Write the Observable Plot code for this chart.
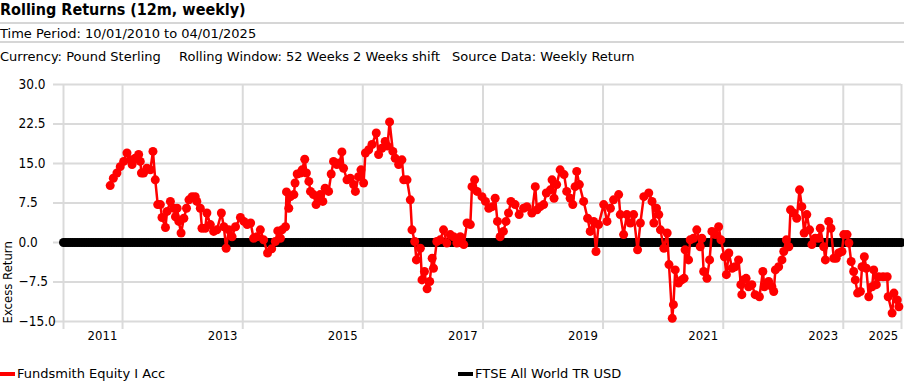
<!DOCTYPE html>
<html>
<head>
<meta charset="utf-8">
<script src="https://cdn.jsdelivr.net/npm/d3@7"></script>
<script src="https://cdn.jsdelivr.net/npm/@observablehq/plot@0.6"></script>
<style>
  body { margin: 0; background: #fff; font-family: "DejaVu Sans", sans-serif; color: #000; }
  #wrap { position: relative; width: 904px; height: 386px; overflow: hidden; }
  .title { position: absolute; left: 0; top: 0; font-family: "DejaVu Sans Condensed", "DejaVu Sans", sans-serif; font-weight: bold; font-size: 16px; line-height: 20px; white-space: nowrap; }
  .sep { position: absolute; left: 0; width: 904px; height: 2px; background: #d6d6d6; }
  .txt { position: absolute; font-size: 13px; line-height: 16px; white-space: nowrap; }
  #chart { position: absolute; left: 0; top: 64px; }
  .leg { position: absolute; top: 366px; font-size: 13px; line-height: 16px; display: flex; align-items: center; white-space: nowrap; }
  .sw { width: 15px; height: 4px; margin-right: 2px; }
</style>
</head>
<body>
<div id="wrap">
  <div class="title">Rolling Returns (12m, weekly)</div>
  <div class="sep" style="top:22px"></div>
  <div class="txt" style="left:0;top:26px">Time Period: 10/01/2010 to 04/01/2025</div>
  <div class="sep" style="top:41px"></div>
  <div class="txt" style="left:0;top:49px">Currency: Pound Sterling</div>
  <div class="txt" style="left:179px;top:49px">Rolling Window: 52 Weeks 2 Weeks shift</div>
  <div class="txt" style="left:452px;top:49px">Source Data: Weekly Return</div>
  <div id="chart"></div>
  <div class="leg" style="left:0"><div class="sw" style="background:#ff0000"></div>Fundsmith Equity I Acc</div>
  <div class="leg" style="left:458px"><div class="sw" style="background:#000"></div>FTSE All World TR USD</div>
</div>
<script>
// ---- data ----
const seriesNames = ["Fundsmith Equity I Acc", "FTSE All World TR USD"];

const fundDates = [
"2011-10-18","2011-11-06","2011-11-28","2011-12-18","2012-01-08","2012-01-28","2012-02-18","2012-02-28","2012-03-18","2012-04-08",
"2012-04-18","2012-04-25","2012-05-08","2012-05-28","2012-06-18","2012-07-04","2012-07-18","2012-08-02","2012-08-18","2012-08-28",
"2012-09-18","2012-09-28","2012-10-18","2012-11-08","2012-11-18","2012-11-28","2012-12-08","2012-12-22","2013-01-08","2013-01-24",
"2013-02-08","2013-02-27","2013-03-18","2013-03-28","2013-04-18","2013-04-28","2013-05-18","2013-05-28","2013-06-18","2013-07-08",
"2013-07-28","2013-08-24","2013-09-08","2013-09-22","2013-10-08","2013-10-28","2013-11-18","2013-12-18","2014-01-08","2014-01-28",
"2014-02-18","2014-03-08","2014-03-28","2014-04-18","2014-05-08","2014-06-01","2014-06-26","2014-07-18","2014-08-02","2014-08-18",
"2014-08-28","2014-09-18","2014-09-24","2014-10-08","2014-10-18","2014-11-08","2014-11-15","2014-11-28","2014-12-18","2014-12-28",
"2015-01-13","2015-01-23","2015-02-07","2015-02-17","2015-03-07","2015-03-23","2015-04-07","2015-04-17","2015-05-03","2015-05-17",
"2015-06-07","2015-06-23","2015-07-07","2015-07-27","2015-08-12","2015-08-27","2015-09-06","2015-09-27","2015-10-17","2015-11-06",
"2015-11-17","2015-12-06","2015-12-21","2016-01-06","2016-01-17","2016-02-06","2016-02-26","2016-03-23","2016-04-06","2016-04-26",
"2016-05-16","2016-05-30","2016-06-12","2016-07-02","2016-07-16","2016-08-06","2016-08-26","2016-09-06","2016-09-26","2016-10-16",
"2016-10-26","2016-11-12","2016-11-22","2016-12-16","2016-12-26","2017-01-10","2017-01-26","2017-02-11","2017-02-26","2017-03-06",
"2017-03-26","2017-04-16","2017-05-06","2017-05-26","2017-06-16","2017-07-06","2017-07-26","2017-08-16","2017-09-06","2017-09-26",
"2017-10-16","2017-10-26","2017-11-11","2017-11-26","2017-12-26","2018-01-16","2018-02-05","2018-02-26","2018-03-16","2018-03-30",
"2018-04-15","2018-05-05","2018-05-21","2018-06-05","2018-06-20","2018-07-15","2018-08-09","2018-09-05","2018-09-25","2018-10-25",
"2018-11-15","2018-11-25","2018-12-15","2019-01-05","2019-01-21","2019-02-15","2019-02-25","2019-03-09","2019-03-25","2019-04-15",
"2019-05-09","2019-05-25","2019-06-15","2019-07-01","2019-07-15","2019-07-25","2019-08-10","2019-09-05","2019-09-29","2019-10-15",
"2019-11-05","2019-11-19","2019-12-05","2020-01-05","2020-01-25","2020-02-15","2020-03-05","2020-04-05","2020-04-15","2020-05-05",
"2020-05-25","2020-06-15","2020-07-05","2020-07-29","2020-08-15","2020-09-05","2020-10-05","2020-10-25","2020-11-05","2020-11-21",
"2020-12-05","2020-12-15","2021-01-05","2021-01-25","2021-02-05","2021-02-25","2021-03-04","2021-03-15","2021-04-04","2021-04-24",
"2021-05-08","2021-05-14","2021-06-04","2021-06-14","2021-07-04","2021-07-24","2021-08-14","2021-08-24","2021-09-04","2021-09-24",
"2021-10-10","2021-10-24","2021-11-14","2021-12-04","2021-12-18","2022-01-08","2022-01-20","2022-02-04","2022-02-24","2022-03-14",
"2022-04-04","2022-04-18","2022-04-24","2022-05-04","2022-05-20","2022-06-04","2022-06-24","2022-07-14","2022-08-09","2022-08-30",
"2022-09-08","2022-10-04","2022-10-24","2022-11-04","2022-11-14","2022-12-04","2022-12-24","2023-01-04","2023-01-20","2023-02-04",
"2023-02-14","2023-03-04","2023-03-24","2023-04-10","2023-04-24","2023-05-08","2023-05-24","2023-06-10","2023-06-24","2023-07-14",
"2023-08-04","2023-08-14","2023-09-04","2023-09-14","2023-10-04","2023-10-18","2023-11-04","2023-11-19","2023-12-04","2023-12-24",
"2024-01-04","2024-01-24","2024-02-04","2024-02-18","2024-03-04","2024-03-14","2024-03-28","2024-04-14","2024-04-24","2024-05-08",
"2024-05-20","2024-06-04","2024-06-24","2024-07-04","2024-07-20","2024-08-04","2024-08-30","2024-09-24","2024-09-30","2024-10-24",
"2024-11-04","2024-11-24","2024-12-04"
];

const fundValues = [
10.8,12.2,13.2,14.4,15.4,17.0,15.7,14.8,16.0,16.7,
15.4,13.2,13.2,14.1,13.8,17.3,11.9,7.2,7.2,4.75,
2.85,5.9,7.8,6.5,4.9,6.5,4.0,1.8,4.6,6.5,
8.1,8.7,8.7,7.8,6.5,2.7,2.7,5.6,3.4,2.1,
2.4,5.6,3.0,-1.1,2.4,1.1,3.0,4.75,4.0,3.4,
3.7,0.8,1.1,2.4,0.5,-2.0,-1.2,0.2,2.2,0.8,
2.4,3.0,9.6,6.5,8.7,9.1,11.3,13.0,13.2,13.8,
15.8,13.2,11.6,9.7,9.1,7.2,8.4,9.1,7.8,10.3,
9.7,13.0,15.4,14.8,15.1,17.2,14.1,11.9,12.2,11.0,
9.7,12.5,13.8,11.3,17.0,17.6,18.6,20.8,16.7,17.9,
19.2,18.3,22.9,17.3,16.0,14.8,15.7,11.9,11.9,8.1,
2.4,0.2,-3.3,-1.1,-7.1,-5.5,-8.8,-7.4,-3.0,-4.9,
0.2,0.5,2.4,-0.1,1.5,1.1,-0.1,1.1,-0.4,3.7,
3.4,10.6,11.9,9.7,8.7,7.8,6.5,6.8,8.4,4.0,
1.1,2.1,4.0,5.6,7.8,7.2,5.3,6.5,6.8,5.6,
10.6,6.2,6.8,7.2,9.4,10.0,11.9,8.4,11.0,13.8,
12.9,9.7,8.4,7.2,10.6,13.5,11.0,7.8,4.6,2.1,
4.0,-1.7,3.4,7.2,4.0,6.5,8.1,9.1,5.3,1.5,
5.3,3.7,5.3,-1.4,3.7,8.7,9.4,7.8,3.7,6.5,
5.3,2.4,-1.1,1.8,-4.2,-14.4,-11.8,-5.2,-7.7,-7.1,
-6.8,-1.4,-3.3,0.5,0.8,2.4,-0.8,0.8,-5.5,-6.8,
-3.3,2.1,1.5,3.0,0.5,-2.7,-6.1,-2.0,-4.9,-4.6,
-3.3,-8.0,-9.9,-7.1,-6.8,-8.4,-8.0,-9.9,-10.3,-5.5,
-8.4,-7.4,-8.4,-9.3,-5.2,-4.6,-3.3,-1.7,0.5,-0.8,
6.2,5.6,4.6,10.0,6.8,1.8,5.3,2.4,-0.4,0.8,
0.8,2.7,-0.8,-3.3,4.0,2.7,-3.0,-3.0,-2.0,-1.7,
1.5,1.5,-0.1,-3.6,-5.5,-7.1,-9.6,-9.3,-4.6,-2.7,
-4.9,-10.3,-8.4,-5.2,-8.0,-6.5,-6.5,-6.5,-10.3,-13.4,
-9.6,-10.9,-12.2
];

// Benchmark measured against itself: excess return is 0 at every 2-week shift
const benchStartDate = "2011-01-07";
const benchEndDate = "2024-12-20";
const benchExcess = 0;

const yTicks = [-15, -7.5, 0, 7.5, 15, 22.5, 30];
const gridYears = ["2012-01-01","2014-01-01","2016-01-01","2018-01-01","2020-01-01","2022-01-01","2024-01-01"];
const xTickLabels = ["2011","2013","2015","2017","2019","2021","2023","2025"];
const xTickDates = ["2011-09-01","2013-09-01","2015-09-01","2017-09-01","2019-09-01","2021-09-01","2023-09-01","2024-09-01"];
const yTitle = "Excess Return";

// ---- build ----
const start = new Date(benchStartDate), end = new Date(benchEndDate);
const fund = fundDates.map((d, i) => ({date: new Date(d), value: fundValues[i]}));
const bench = d3.utcDay.range(start, d3.utcDay.offset(end, 1), 14).map(d => ({date: d, value: benchExcess}));
const gridDates = [start, ...gridYears.map(d => new Date(d)), end];
const xTicks = xTickDates.map((d, i) => ({date: new Date(d), label: xTickLabels[i]}));
const fmt = d3.format(".1f");

const chart = Plot.plot({
  width: 904,
  height: 291,
  marginTop: 20,
  marginRight: 3,
  marginBottom: 34,
  marginLeft: 63,
  style: {fontFamily: '"DejaVu Sans Condensed", "DejaVu Sans", sans-serif', fontSize: "13px", color: "#000", background: "transparent", overflow: "visible"},
  x: {type: "utc", domain: [start, end], axis: null},
  y: {domain: [-15, 30], axis: null},
  marks: [
    Plot.ruleY(yTicks, {stroke: "#dadada", strokeWidth: 2, insetLeft: -10}),
    Plot.ruleX(gridDates, {stroke: "#dadada", strokeWidth: 2, insetBottom: -8}),
    Plot.text(yTicks, {y: d => d, text: d => fmt(d), frameAnchor: "left", textAnchor: "start", dx: -45, fill: "#000", fontSize: 13.5}),
    Plot.text(xTicks, {x: "date", text: "label", frameAnchor: "bottom", dy: 18, fill: "#000"}),
    Plot.text([yTitle], {text: d => d, frameAnchor: "bottom-left", rotate: -90, textAnchor: "start", dx: -52, dy: 2, fill: "#000"}),
    Plot.line(bench, {x: "date", y: "value", stroke: "#000", strokeWidth: 2}),
    Plot.dot(bench, {x: "date", y: "value", r: 4.5, fill: "#000"}),
    Plot.line(fund, {x: "date", y: "value", stroke: "#ff0000", strokeWidth: 2.5}),
    Plot.dot(fund, {x: "date", y: "value", r: 4.5, fill: "#ff0000"})
  ]
});
document.getElementById("chart").appendChild(chart);
</script>
</body>
</html>
